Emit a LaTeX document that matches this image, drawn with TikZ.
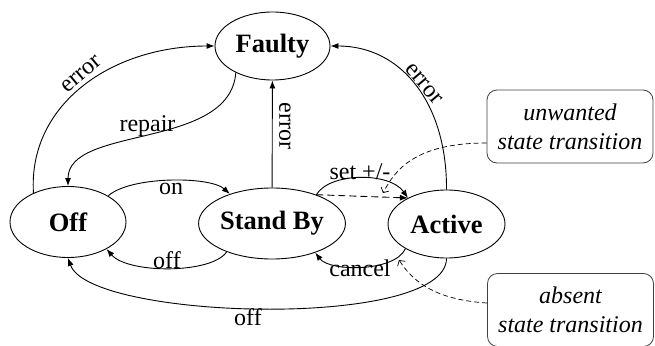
\documentclass[tikz,border=0pt]{standalone}
\usepackage{fontspec}
\setmainfont{Liberation Serif}
\usetikzlibrary{shapes.geometric,arrows.meta}
\begin{document}
\begin{tikzpicture}[x=1pt,y=-1pt,
  state/.style={ellipse, draw, line width=0.9pt, inner sep=0pt,
    minimum width=116pt, minimum height=71pt,
    font=\fontsize{26.5}{30}\selectfont\bfseries},
  lbl/.style={font=\fontsize{24}{28}\selectfont, inner sep=0pt},
  trans/.style={line width=0.9pt, -{Latex[length=8pt,width=6pt]}},
  note/.style={draw=black!75, line width=0.8pt, rounded corners=10pt,
    minimum width=166pt, minimum height=73pt, align=center, inner sep=0pt,
    font=\fontsize{24}{29}\selectfont\itshape},
  hint/.style={line width=0.7pt, dash pattern=on 5pt off 3pt,
    -{Straight Barb[length=4pt,width=9pt]}}
]
\useasboundingbox (0,0) rectangle (655,345);
\clip (0,0) rectangle (655,345);

% states
\node[state, minimum width=115pt, minimum height=68pt] (faulty) at (272.5,46) {Faulty};
\node[state] (off) at (68,222) {Off};
\node[state] (standby) at (272,223.5) {Stand By};
\node[state, minimum width=117pt, minimum height=68pt] (active) at (446.5,224) {Active};

% remarks
\node[note] (unwanted) at (570,126.5) {unwanted\\state transition};
\node[note] (absent) at (570.5,310) {absent\\state transition};

% transitions
\draw[trans] (off.140) .. controls (28,104) and (112,46) .. (faulty.west);
\draw[trans] (faulty.216) .. controls (230,150) and (68,125) .. (off.north);
\draw[trans] (off.33) .. controls (130,176) and (210,176) .. (standby.145);
\draw[trans] (standby.212) .. controls (212,274) and (128,274) .. (off.325);
\draw[trans] (standby) -- (faulty);
\draw[trans] (active.north) .. controls (447,104) and (402,46) .. (faulty.east);
\draw[trans] (standby.33) .. controls (330,172) and (390,172) .. (active.146);
\draw[trans, dash pattern=on 7pt off 4pt] (standby.33) -- (active.146);
\draw[trans] (active.211) .. controls (395,272) and (330,272) .. (standby.326);
\draw[trans] (active.south) .. controls (446,330) and (90,320) .. (off.south);

% transition labels
\node[lbl, rotate=40] at (81.5,74) {error};
\node[lbl, anchor=base] at (147.5,131) {repair};
\node[lbl, anchor=base] at (171,194) {on};
\node[lbl, anchor=base] at (167,268) {off};
\node[lbl, rotate=-90] at (285,126) {error};
\node[lbl, rotate=-50] at (424,84) {error};
\node[lbl, anchor=base] at (360,179) {set +/-};
\node[lbl, anchor=base] at (360,276) {cancel};
\node[lbl, anchor=base] at (248,325) {off};

% remark pointers
\coordinate (setTip) at (383,193);
\coordinate (cancelTip) at (399,260);
\draw[hint] ([yshift=-16.5pt]unwanted.west) .. controls (415,143) and (395,170) .. (setTip);
\draw[hint] ([yshift=7pt]absent.west) .. controls (440,300) and (415,285) .. (cancelTip);
\end{tikzpicture}
\end{document}
